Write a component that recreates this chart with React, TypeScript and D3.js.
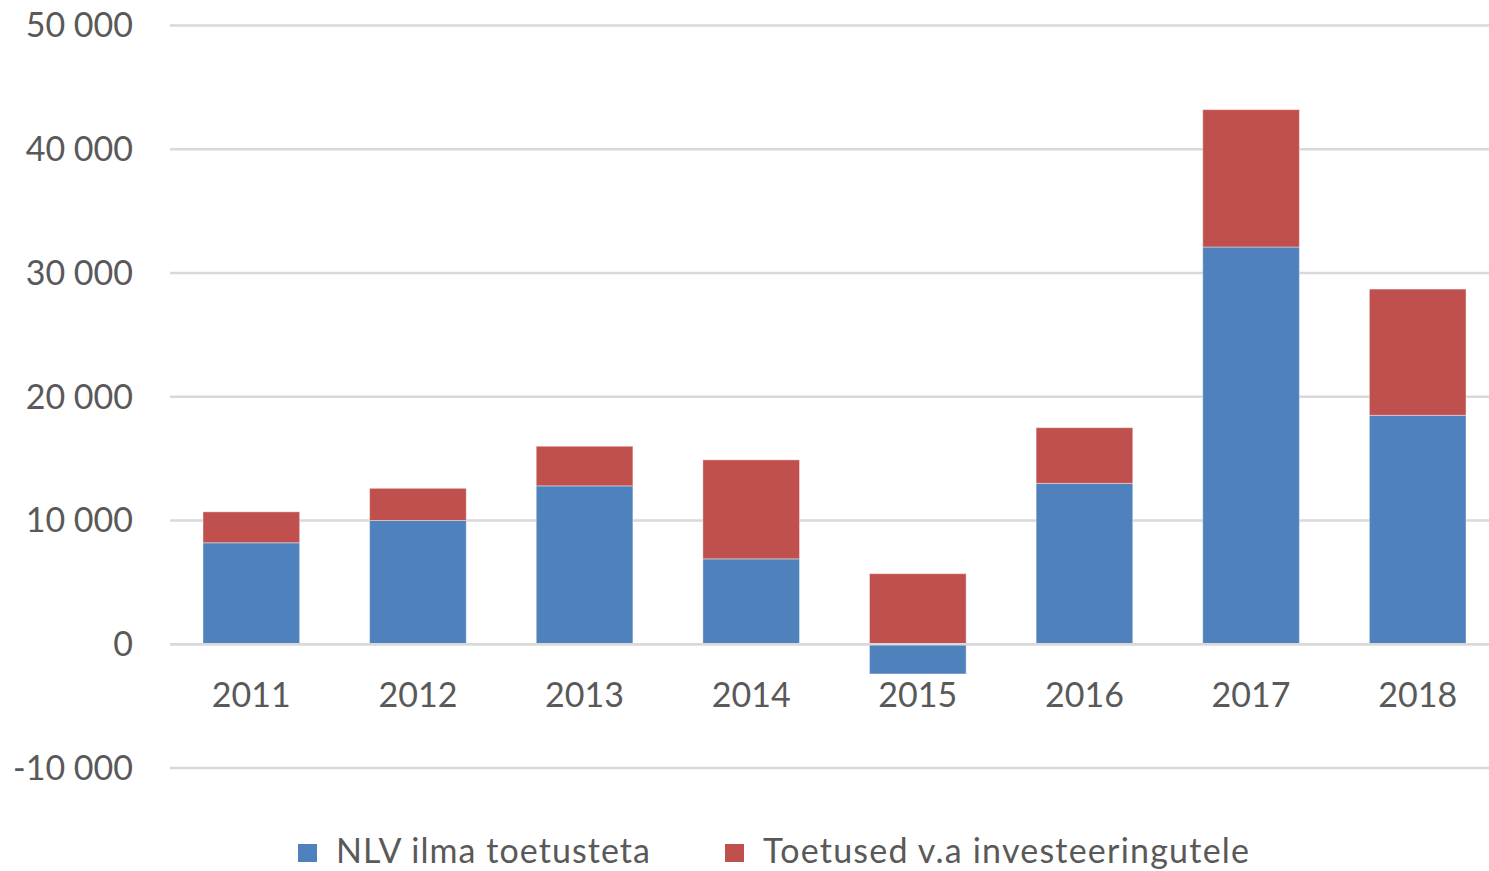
import React from 'react';
import * as d3 from 'd3';

const years = ['2011', '2012', '2013', '2014', '2015', '2016', '2017', '2018'];
const nlvValues = [8200, 10000, 12800, 6900, -2400, 13000, 32100, 18500];
const toetusedValues = [2500, 2600, 3200, 8000, 5700, 4500, 11100, 10200];
const yTicks = [-10000, 0, 10000, 20000, 30000, 40000, 50000];
const seriesNames = ['NLV ilma toetusteta', 'Toetused v.a investeeringutele'];
const seriesColors = ['#4f81bd', '#c0504d'];

const W = 1489;
const H = 871;
const FONT = 'Lato, "Open Sans", sans-serif';

const fmt = d3.formatLocale({decimal: ',', thousands: ' ', grouping: [3], currency: ['', '']}).format(',d');

export default function App() {
  const x = d3.scaleBand().domain(years).range([168, 1501]).paddingInner(0.42).paddingOuter(0.21);
  const y = d3.scaleLinear().domain([-10000, 50000]).range([768, 25.5]);

  // stack: positives pile upward from 0, negatives go below 0
  const bars = years.map((yr, i) => {
    const parts = [];
    let pos = 0;
    let neg = 0;
    [nlvValues[i], toetusedValues[i]].forEach((v, s) => {
      if (v >= 0) {
        parts.push({s, y0: pos, y1: pos + v});
        pos += v;
      } else {
        parts.push({s, y0: neg + v, y1: neg});
        neg += v;
      }
    });
    return {yr, parts};
  });

  // legend entries: square position and text width
  const legend = [
    {x: 298, w: 314},
    {x: 725, w: 486},
  ];

  return (
    <div style={{position: 'absolute', top: 0, left: 0}}>
      <svg width={W} height={H} style={{display: 'block', fontFamily: FONT}}>
        <rect width={W} height={H} fill="#ffffff" />
        {yTicks.map(t => (
          <g key={t}>
            <line x1={170} x2={1489} y1={y(t)} y2={y(t)} stroke="#d9d9d9" strokeWidth={2.5} />
            <text x={133} y={y(t)} dy="0.35em" textAnchor="end" fontSize={34} fill="#595959">
              {fmt(t).replace('−', '-')}
            </text>
          </g>
        ))}
        {bars.map(b => (
          <g key={b.yr}>
            {b.parts.map(p => (
              <rect
                key={p.s}
                x={x(b.yr)}
                width={x.bandwidth()}
                y={y(p.y1)}
                height={y(p.y0) - y(p.y1)}
                fill={seriesColors[p.s]}
                stroke="#ffffff"
                strokeOpacity={0.4}
                strokeWidth={1}
              />
            ))}
            <text
              x={(x(b.yr) as number) + x.bandwidth() / 2}
              y={707}
              textAnchor="middle"
              fontSize={34}
              fill="#595959">
              {b.yr}
            </text>
          </g>
        ))}
        <line x1={170} x2={1489} y1={y(0)} y2={y(0)} stroke="#d9d9d9" strokeWidth={2.5} />
        {/* legend */}
        {seriesNames.map((name, i) => (
          <g key={name}>
            <rect x={legend[i].x} y={844} width={19} height={18} fill={seriesColors[i]} />
            <text
              x={legend[i].x + 38}
              y={863}
              fontSize={34}
              fill="#595959"
              textLength={legend[i].w}
              lengthAdjust="spacing">
              {name}
            </text>
          </g>
        ))}
      </svg>
    </div>
  );
}
